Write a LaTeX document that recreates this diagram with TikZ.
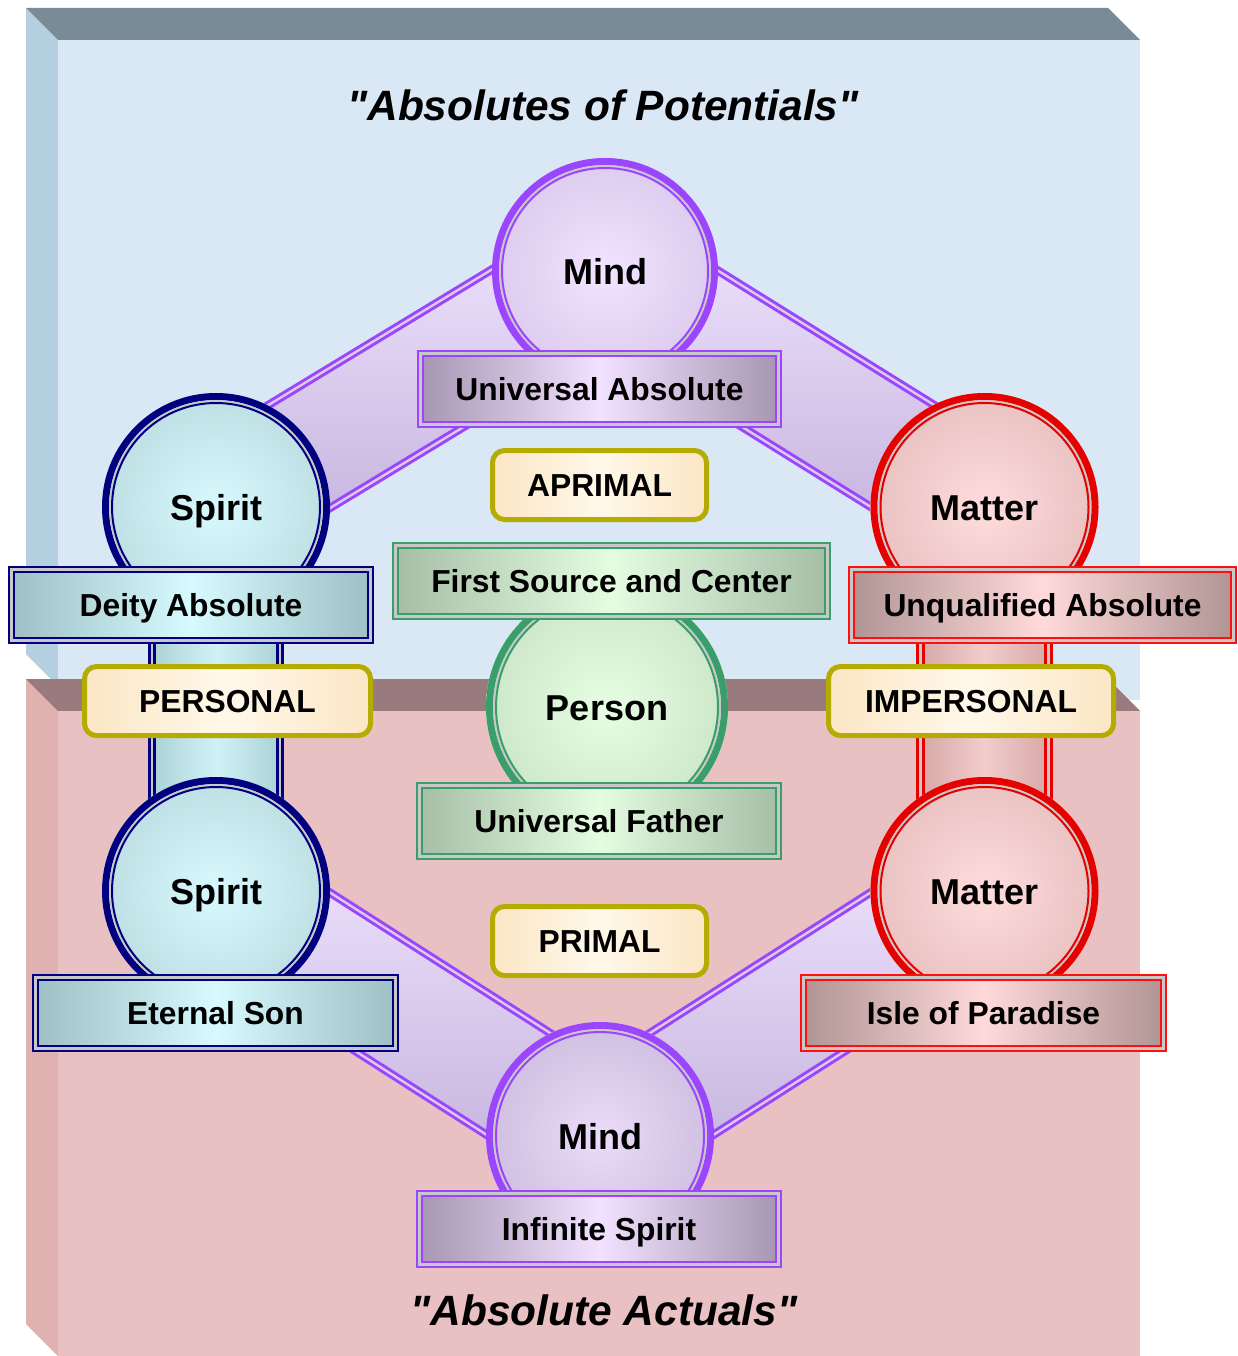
\documentclass[tikz,border=0pt]{standalone}
\usepackage{fontspec}
\setmainfont{Liberation Sans}[Ligatures=TeXOff]
\usetikzlibrary{calc}

\definecolor{bgBlue}{HTML}{DAE7F5}
\definecolor{bgBlueBevel}{HTML}{B4CFE0}
\definecolor{bgTop}{HTML}{798B97}
\definecolor{bgPink}{HTML}{EAC1C3}
\definecolor{bgPinkBevel}{HTML}{E0B1B1}
\definecolor{bgBrown}{HTML}{9A7B7D}
\definecolor{purp}{HTML}{9B45FF}
\definecolor{navyc}{HTML}{000080}
\definecolor{redc}{HTML}{E60000}
\definecolor{redb}{HTML}{FF1010}
\definecolor{greenc}{HTML}{3A9E6A}
\definecolor{olivec}{HTML}{B4AC00}
\definecolor{ringgray}{HTML}{C8C8C8}
\definecolor{edgegap}{HTML}{D8CCE6}
% circle fills
\definecolor{mindIn}{HTML}{F2E4FF}
\definecolor{mindOut}{HTML}{C6B2DC}
\definecolor{mindBIn}{HTML}{ECDCFA}
\definecolor{mindBOut}{HTML}{B2A2C6}
\definecolor{spIn}{HTML}{D8FAFF}
\definecolor{spOut}{HTML}{A2C2C4}
\definecolor{mtIn}{HTML}{FFDCDC}
\definecolor{mtOut}{HTML}{D2A6A6}
\definecolor{psIn}{HTML}{E6FFE2}
\definecolor{psOut}{HTML}{B4CEB0}
% box fills
\definecolor{boxPurE}{HTML}{A696B2}
\definecolor{boxPurM}{HTML}{F2E2FF}
\definecolor{boxSpE}{HTML}{9EC0C4}
\definecolor{boxSpM}{HTML}{D6FAFE}
\definecolor{boxMtE}{HTML}{B09494}
\definecolor{boxMtM}{HTML}{FFDADA}
\definecolor{boxGrE}{HTML}{A6BEA6}
\definecolor{boxGrM}{HTML}{E4FCE0}
\definecolor{yelE}{HTML}{FBE6C4}
\definecolor{yelM}{HTML}{FFF8EA}
% bands
\definecolor{bandTop}{HTML}{F0E4FF}
\definecolor{bandBot}{HTML}{C2B0DA}
\definecolor{spBandE}{HTML}{ACD2D6}
\definecolor{spBandM}{HTML}{D0F2F6}
\definecolor{mtBandE}{HTML}{D8A8A8}
\definecolor{mtBandM}{HTML}{F2CCCC}

\pgfdeclareradialshading{mindball}{\pgfpoint{0bp}{0bp}}{color(0bp)=(mindIn); color(50bp)=(mindOut); color(72bp)=(mindOut)}
\pgfdeclareradialshading{mindBball}{\pgfpoint{0bp}{0bp}}{color(0bp)=(mindBIn); color(50bp)=(mindBOut); color(72bp)=(mindBOut)}
\pgfdeclareradialshading{spball}{\pgfpoint{0bp}{0bp}}{color(0bp)=(spIn); color(50bp)=(spOut); color(72bp)=(spOut)}
\pgfdeclareradialshading{mtball}{\pgfpoint{0bp}{0bp}}{color(0bp)=(mtIn); color(50bp)=(mtOut); color(72bp)=(mtOut)}
\pgfdeclareradialshading{psball}{\pgfpoint{0bp}{0bp}}{color(0bp)=(psIn); color(50bp)=(psOut); color(72bp)=(psOut)}

\tikzset{
  orbnode/.style={circle, inner sep=0pt, shade, text height=26pt, text depth=0pt,
    font=\fontsize{36}{40}\selectfont\bfseries},
  boxbase/.style={draw=#1, double=ringgray, double distance=2.2pt, line width=2.4pt,
    minimum height=71pt, inner sep=0pt, text height=23pt, text depth=0pt,
    font=\fontsize{31.8}{36}\selectfont\bfseries},
  purfill/.style={left color=boxPurE, right color=boxPurE, middle color=boxPurM},
  spfill/.style={left color=boxSpE, right color=boxSpE, middle color=boxSpM},
  mtfill/.style={left color=boxMtE, right color=boxMtE, middle color=boxMtM},
  grfill/.style={left color=boxGrE, right color=boxGrE, middle color=boxGrM},
  ylabel/.style={draw=olivec, line width=5pt, rounded corners=12pt,
    left color=yelE, right color=yelE, middle color=yelM,
    minimum height=69pt, inner sep=0pt, text height=23pt, text depth=0pt,
    font=\fontsize{31.8}{36}\selectfont\bfseries},
  diagband/.style={top color=bandTop, bottom color=bandBot},
  spband/.style={left color=spBandE, right color=spBandE, middle color=spBandM},
  mtband/.style={left color=mtBandE, right color=mtBandE, middle color=mtBandM},
  purpedge/.style={draw=purp, double=edgegap, double distance=2.4pt, line width=3pt},
  navyedge/.style={draw=navyc, double=ringgray, double distance=2.4pt, line width=3pt},
  rededge/.style={draw=redc, double=ringgray, double distance=2.4pt, line width=3pt},
  titlefont/.style={font=\fontsize{42.4}{48}\selectfont\bfseries\itshape}
}

% band between two centres: #1 from, #2 to, #3 half width, #4 fill style, #5 edge style
\newcommand\diaband[5]{%
  \path[#4] ($(#1)!#3!90:(#2)$) -- ($(#2)!#3!-90:(#1)$) -- ($(#2)!#3!90:(#1)$) -- ($(#1)!#3!-90:(#2)$) -- cycle;
  \draw[#5] ($(#1)!#3!90:(#2)$) -- ($(#2)!#3!-90:(#1)$);
  \draw[#5] ($(#1)!#3!-90:(#2)$) -- ($(#2)!#3!90:(#1)$);
}
% orb: #1 name, #2 centre, #3 shading, #4 ring colour, #5 text, #6 radius
\newcommand\orb[6]{%
  \node[orbnode, shading=#3, minimum size={2*#6pt}] (#1) at (#2) {#5};
  \draw[#4, line width=7pt] (#1.center) circle[radius={#6pt-3.5pt}];
  \draw[ringgray, line width=2pt] (#1.center) circle[radius={#6pt-8pt}];
  \draw[#4, line width=2pt] (#1.center) circle[radius={#6pt-10pt}];
}

\begin{document}
\begin{tikzpicture}[x=1pt,y=-1pt]
\useasboundingbox (0,0) rectangle (1238,1356);
% ---------- background panels ----------
\fill[bgBlueBevel] (26,8) -- (58,40) -- (58,686) -- (26,654) -- cycle;
\fill[bgTop] (26,8) -- (1108,8) -- (1140,40) -- (58,40) -- cycle;
\fill[bgBlue] (58,40) rectangle (1140,700);
\fill[bgPinkBevel] (26,679) -- (58,711) -- (58,1356) -- (26,1324) -- cycle;
\fill[bgBrown] (26,679) -- (1108,679) -- (1140,711) -- (58,711) -- cycle;
\fill[bgPink] (58,711) rectangle (1140,1356);

% ---------- centres ----------
\coordinate (pMT) at (605,271);
\coordinate (pST) at (216,507);
\coordinate (pXT) at (984.5,507);
\coordinate (pP)  at (607,707);
\coordinate (pSB) at (216,891);
\coordinate (pXB) at (984.5,891);
\coordinate (pMB) at (600,1136);

% ---------- bands ----------
\diaband{pMT}{pST}{60pt}{diagband}{purpedge}
\diaband{pMT}{pXT}{60pt}{diagband}{purpedge}
\diaband{pSB}{pMB}{60pt}{diagband}{purpedge}
\diaband{pXB}{pMB}{60pt}{diagband}{purpedge}
\diaband{pST}{pSB}{64pt}{spband}{navyedge}
\diaband{pXT}{pXB}{64pt}{mtband}{rededge}

% ---------- circles ----------
\orb{mindT}{pMT}{mindball}{purp}{Mind}{113}
\orb{spiritT}{pST}{spball}{navyc}{Spirit}{114}
\orb{matterT}{pXT}{mtball}{redc}{Matter}{114}
\orb{person}{pP}{psball}{greenc}{Person}{121}
\orb{spiritB}{pSB}{spball}{navyc}{Spirit}{114}
\orb{matterB}{pXB}{mtball}{redc}{Matter}{114}
\orb{mindB}{pMB}{mindBball}{purp}{Mind}{114}

% ---------- boxes ----------
\node[boxbase=purp, purfill, minimum width=358pt] (ua) at (599.5,389) {Universal Absolute};
\node[boxbase=navyc, spfill, minimum width=359pt] (da) at (191,605) {Deity Absolute};
\node[boxbase=redb, mtfill, minimum width=382pt] (uqa) at (1042.5,605) {Unqualified Absolute};
\node[boxbase=greenc, grfill, minimum width=432pt] (fsc) at (611.5,581) {First Source and Center};
\node[boxbase=greenc, grfill, minimum width=359pt] (uf) at (599,821) {Universal Father};
\node[boxbase=navyc, spfill, minimum width=360pt] (es) at (215.5,1013) {Eternal Son};
\node[boxbase=redb, mtfill, minimum width=360pt] (iop) at (983.5,1013) {Isle of Paradise};
\node[boxbase=purp, purfill, minimum width=359pt] (is) at (599,1229) {Infinite Spirit};

% ---------- yellow labels ----------
\node[ylabel, minimum width=214pt] (aprimal) at (599.5,485) {APRIMAL};
\node[ylabel, minimum width=286pt] (personal) at (227.5,701) {PERSONAL};
\node[ylabel, minimum width=285pt] (impersonal) at (971,701) {IMPERSONAL};
\node[ylabel, minimum width=214pt] (primal) at (599.5,941) {PRIMAL};

% ---------- titles ----------
\node[titlefont] (ttop) at (603,105) {"Absolutes of Potentials"};
\node[titlefont] (tbot) at (604,1310) {"Absolute Actuals"};
\end{tikzpicture}
\end{document}
